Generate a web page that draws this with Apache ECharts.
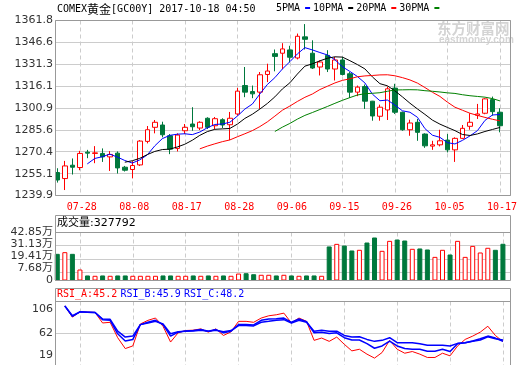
<!DOCTYPE html>
<html><head><meta charset="utf-8">
<script src="https://cdn.jsdelivr.net/npm/echarts@6/dist/echarts.min.js"></script>
<style>html,body{margin:0;padding:0;background:#fff}#c{width:520px;height:365px}</style>
</head><body><div id="c"></div>
<script>
const dates = ['07-25','07-26','07-27','07-28','07-31','08-01','08-02','08-03','08-04','08-07',
 '08-08','08-09','08-10','08-11','08-14','08-15','08-16','08-17','08-18','08-21',
 '08-22','08-23','08-24','08-25','08-28','08-29','08-30','08-31','09-01','09-04',
 '09-05','09-06','09-07','09-08','09-11','09-12','09-13','09-14','09-15','09-18',
 '09-19','09-20','09-21','09-22','09-25','09-26','09-27','09-28','09-29','10-02',
 '10-03','10-04','10-05','10-06','10-10','10-11','10-12','10-13','10-16','10-17'];
const xTickLabels = ['07-28','08-08','08-17','08-28','09-06','09-15','09-26','10-05','10-17'];
const open = [1255.9,1251.7,1261.0,1259.4,1270.1,1269.2,1269.2,1266.8,1269.4,1259.6,
 1258.0,1261.2,1277.6,1287.4,1289.0,1281.5,1272.7,1285.0,1289.7,1286.9,
 1293.7,1288.5,1292.7,1289.2,1296.7,1316.5,1312.3,1311.9,1324.2,1338.7,
 1339.0,1341.3,1335.7,1350.4,1339.0,1329.4,1337.5,1328.0,1334.3,1324.7,
 1311.9,1315.8,1305.6,1295.1,1299.5,1314.7,1297.9,1285.7,1290.9,1282.7,
 1274.3,1275.2,1278.5,1271.7,1279.7,1288.1,1295.8,1297.2,1306.7,1297.9];
const close = [1250.7,1260.5,1259.6,1269.2,1269.4,1269.6,1266.8,1268.5,1259.1,1257.5,
 1260.8,1277.8,1285.7,1290.9,1282.2,1272.2,1282.0,1287.4,1287.8,1290.9,
 1287.4,1293.4,1289.0,1293.7,1312.6,1311.9,1310.7,1324.0,1326.6,1336.8,
 1342.0,1336.2,1350.8,1348.7,1328.7,1332.9,1328.0,1334.3,1324.2,1311.9,
 1315.4,1305.6,1295.3,1301.4,1314.2,1297.9,1285.7,1290.4,1283.9,1274.5,
 1275.2,1278.0,1271.7,1279.7,1286.7,1290.9,1296.7,1307.2,1298.3,1288.5];
const low = [1248.9,1243.7,1254.5,1257.5,1265.9,1262.4,1263.3,1257.0,1255.2,1256.6,
 1251.9,1260.5,1276.2,1283.2,1280.4,1268.7,1270.6,1282.7,1285.0,1285.5,
 1286.2,1286.2,1286.9,1278.5,1295.5,1308.4,1307.7,1300.2,1318.9,1326.4,
 1328.0,1332.6,1334.7,1341.6,1328.0,1323.5,1325.9,1320.0,1323.5,1307.9,
 1309.1,1300.2,1292.0,1292.0,1292.5,1296.7,1285.0,1281.5,1278.0,1273.1,
 1271.7,1274.1,1269.9,1263.3,1279.2,1285.7,1293.2,1296.5,1295.5,1283.9];
const high = [1258.9,1264.0,1265.7,1271.0,1271.7,1274.3,1272.7,1270.8,1270.6,1260.5,
 1263.8,1278.5,1288.3,1292.5,1291.3,1282.7,1283.2,1289.7,1301.4,1291.6,
 1294.4,1294.6,1293.7,1298.1,1314.9,1329.4,1316.5,1325.9,1331.7,1341.6,
 1346.0,1344.2,1352.7,1359.3,1348.0,1334.0,1341.1,1336.4,1336.4,1325.9,
 1316.5,1317.2,1305.8,1303.2,1315.8,1317.7,1298.3,1292.7,1293.2,1283.2,
 1278.0,1285.7,1282.7,1280.4,1289.0,1297.2,1303.7,1307.7,1308.8,1300.7];
const ma5 = ['-','-','-','-',1261.9,1265.7,1266.9,1268.7,1266.7,1264.3,
 1262.5,1264.7,1268.2,1274.5,1279.5,1281.8,1282.6,1282.9,1282.3,1284.1,
 1287.1,1289.4,1289.7,1290.9,1295.2,1300.1,1303.6,1310.6,1317.2,1322.0,
 1328.0,1333.1,1338.5,1342.9,1341.3,1339.5,1337.8,1334.5,1329.6,1326.3,
 1322.8,1318.3,1310.5,1305.9,1306.4,1302.9,1298.9,1297.9,1294.4,1286.5,
 1281.9,1280.4,1276.7,1275.8,1278.3,1281.4,1285.1,1292.2,1296.0,1296.3];
const ma10 = ['-','-','-','-','-','-','-','-','-',1263.1,
 1264.1,1265.8,1268.4,1270.6,1271.9,1272.2,1273.7,1275.6,1278.4,1281.8,
 1284.4,1286.0,1286.3,1286.6,1289.6,1293.6,1296.5,1300.1,1304.0,1308.6,
 1314.1,1318.4,1324.5,1330.0,1331.6,1333.7,1335.5,1336.5,1336.3,1333.8,
 1331.1,1328.1,1322.5,1317.8,1316.3,1312.8,1308.6,1304.2,1300.2,1296.4,
 1292.4,1289.6,1287.3,1285.1,1282.4,1281.7,1282.8,1284.5,1285.9,1287.3];
const ma20 = ['-','-','-','-','-','-','-','-','-','-',
 '-','-','-','-','-','-','-','-','-',1272.4,
 1274.3,1275.9,1277.4,1278.6,1280.8,1282.9,1285.1,1287.9,1291.2,1295.2,
 1299.3,1302.2,1305.4,1308.3,1310.6,1313.7,1316.0,1318.3,1320.1,1321.2,
 1322.6,1323.2,1323.5,1323.9,1324.0,1323.3,1322.0,1320.4,1318.2,1315.1,
 1311.8,1308.9,1304.9,1301.4,1299.3,1297.2,1295.7,1294.3,1293.0,1291.9];
const ma30 = ['-','-','-','-','-','-','-','-','-','-',
 '-','-','-','-','-','-','-','-','-','-',
 '-','-','-','-','-','-','-','-','-',1284.5,
 1287.5,1290.1,1293.1,1295.7,1297.7,1299.8,1301.9,1304.1,1306.2,1308.1,
 1309.9,1310.8,1311.1,1311.5,1312.5,1313.4,1313.5,1313.6,1313.5,1312.9,
 1312.5,1312.0,1311.4,1311.0,1310.1,1309.4,1308.9,1308.4,1307.4,1305.8];
const volume = [23.8,25.3,23.8,9.8,4.5,4.2,4.5,4.2,4.5,4.5,
 4.2,4.2,4.2,4.2,4.5,4.5,4.2,4.2,4.5,4.2,
 4.5,4.2,4.5,4.2,6.2,6.5,5.6,5.1,5.1,4.5,
 5.1,4.5,4.2,4.5,4.5,4.2,30.4,32.7,31.2,26.8,
 27.4,33.9,38.4,26.5,35.4,36.6,35.7,28.3,28.6,27.7,
 21.1,27.4,23.2,35.4,21.1,30.9,25.0,29.2,27.4,32.78];
const rsiA = ['-',113.0,91.8,101.8,101.2,100.6,80.6,81.9,52.6,32.0,
 37.0,78.7,85.6,90.0,74.4,44.4,61.9,66.3,66.9,69.4,
 63.2,69.4,56.9,63.8,83.7,83.7,81.9,90.0,94.3,96.2,
 99.3,80.6,90.0,83.7,47.6,52.0,45.7,53.8,40.1,27.6,
 30.7,21.4,13.9,24.5,47.6,30.7,23.2,26.4,21.4,15.1,
 15.1,23.2,18.2,37.0,49.4,55.7,63.2,74.4,56.9,45.2];
const rsiB = ['-',113.0,93.1,101.8,101.2,100.6,86.9,85.6,60.0,46.3,
 49.4,77.5,81.9,85.6,77.5,55.7,63.2,65.6,66.3,68.1,
 65.0,68.1,61.9,65.0,77.5,77.5,76.9,85.6,88.1,88.7,
 90.0,81.9,88.1,83.1,61.9,63.2,60.7,61.9,52.6,48.2,
 48.2,41.3,32.6,37.0,46.3,37.0,32.0,30.7,30.7,27.0,
 27.0,30.7,26.4,41.3,43.2,46.3,50.7,55.7,51.9,45.9];
const rsiC = ['-',113.0,94.3,101.8,101.2,100.6,88.1,87.5,65.0,53.8,
 55.7,77.5,80.6,83.7,78.7,60.0,63.8,65.0,65.6,66.9,
 65.0,66.9,63.8,66.3,75.6,75.6,75.0,81.9,83.7,85.6,
 86.9,80.6,85.6,81.9,65.0,66.9,65.0,65.0,56.9,53.8,
 54.4,49.4,45.7,47.6,52.6,43.2,43.2,43.2,41.3,38.2,
 38.2,38.2,37.0,41.9,43.2,45.7,48.2,54.4,50.7,48.2];
const priceTicks = [1239.9,1255.1,1270.4,1285.6,1300.9,1316.1,1331.3,1346.6,1361.8];
const volTicks = [0,7.68,19.41,31.13,42.85];
const rsiTicks = [19,62,106];
const lastVolume = '327792';
const rsiLast = ['45.2','45.9','48.2'];

const UP = '#ff0000', DOWN = '#00783c', GRIDC = '#cccccc', FRAME = '#999999', BLUE = '#0000ff';
const MONO = "'DejaVu Sans Mono', monospace";
const SANS = "'DejaVu Sans', 'Noto Sans CJK SC', sans-serif";
const P = { main:{top:20.5,height:175}, vol:{top:232.5,height:48}, rsi:{top:301.5,height:64.5} };
const FR = {left:55, width:456}, DG = {left:53.5, width:453.2};

const candle = dates.map((d,i)=>[open[i], close[i], low[i], high[i]]);
const isUp = i => close[i] >= open[i];
const volUp = volume.map((v,i)=> isUp(i) ? v : '-');
const volDown = volume.map((v,i)=> isUp(i) ? '-' : v);
const showDate = (i, v) => xTickLabels.indexOf(dates[i]) >= 0;

const grids = [];
const xAxes = [];
const yAxes = [];
function addPanel(p, yOpt, showLabels){
  const gi = grids.length;
  grids.push({left:FR.left, width:FR.width, top:p.top, height:p.height, show:false});
  grids.push({left:DG.left, width:DG.width, top:p.top, height:p.height, show:false});
  xAxes.push({gridIndex:gi, type:'value', show:false, min:0, max:1});
  xAxes.push({gridIndex:gi+1, type:'category', data:dates, boundaryGap:true,
    axisLine:{show:false}, axisTick:{show:false},
    axisLabel:{show:showLabels, interval:showDate, color:'#ff0000', fontFamily:MONO, fontSize:10, margin:7, padding:[0,0,0,4]},
    splitLine:{show:true, interval:showDate, alignWithLabel:true, lineStyle:{color:GRIDC, width:1, type:[4,3]}}});
  yAxes.push(Object.assign({gridIndex:gi, type:'value', axisLine:{show:false}}, yOpt));
  yAxes.push({gridIndex:gi+1, type:'value', show:false, min:yOpt.min, max:yOpt.max});
  return gi+1;
}
const labelStyle = {color:'#333', fontFamily:SANS, fontSize:11, margin:2, showMinLabel:true, showMaxLabel:true, hideOverlap:false};
const gMain = addPanel(P.main, {min:1239.9, max:1361.8,
  axisTick:{show:false, customValues:priceTicks},
  axisLabel:Object.assign({customValues:priceTicks, formatter:v=>v.toFixed(1)}, labelStyle),
  splitLine:{show:true, lineStyle:{color:GRIDC}}}, true);
// volume labels sit evenly spaced (12px apart) in the reference: lift each a little
const volLift = {'7.68':7, '19.41':5, '31.13':2};
const gVol = addPanel(P.vol, {min:0, max:42.85,
  axisTick:{show:false, customValues:volTicks.slice(1)},
  axisLabel:Object.assign({customValues:volTicks,
    formatter:v=> { if (v===0) return '0'; const k=v.toFixed(2); return volLift[k] ? '{s'+volLift[k]+'|'+k+'万}' : k+'万'; },
    rich:{s7:{padding:[0,0,7,0]}, s5:{padding:[0,0,5,0]}, s2:{padding:[0,0,2,0]}}}, labelStyle),
  splitLine:{show:true, lineStyle:{color:GRIDC}}}, false);
const gRsi = addPanel(P.rsi, {min:0.8, max:121.4,
  axisTick:{show:false, customValues:[62]},
  axisLabel:Object.assign({customValues:rsiTicks}, labelStyle),
  splitLine:{show:true, lineStyle:{color:GRIDC}}}, false);

function maLine(name, data, color){
  return {name, type:'line', xAxisIndex:gMain, yAxisIndex:gMain, data, symbol:'none', showSymbol:false,
    lineStyle:{color, width:1}, itemStyle:{color}, z:4, silent:true};
}
function rsiLine(name, data, color, w){
  return {name, type:'line', xAxisIndex:gRsi, yAxisIndex:gRsi, data, symbol:'none', showSymbol:false,
    lineStyle:{color, width:w}, itemStyle:{color}, z:4, silent:true};
}

const frameStyle = {stroke:FRAME, fill:null, lineWidth:1};
const option = {
  animation:false,
  backgroundColor:'#ffffff',
  grid:grids, xAxis:xAxes, yAxis:yAxes,
  legend:{data:['5PMA','10PMA','20PMA','30PMA'], left:276, top:3, padding:0, icon:'rect',
    itemWidth:5, itemHeight:2, itemGap:3, align:'right', selectedMode:false,
    textStyle:{fontFamily:MONO, fontSize:10, color:'#000'}},
  series:[
    {name:'K', type:'candlestick', xAxisIndex:gMain, yAxisIndex:gMain, data:candle, barWidth:5,
     itemStyle:{color:'#ffffff', color0:DOWN, borderColor:UP, borderColor0:DOWN, borderWidth:1}, z:3},
    maLine('5PMA', ma5, BLUE),
    maLine('10PMA', ma10, '#000000'),
    maLine('20PMA', ma20, '#ff0000'),
    maLine('30PMA', ma30, '#008000'),
    {name:'volUp', type:'bar', xAxisIndex:gVol, yAxisIndex:gVol, data:volUp, barWidth:5, barGap:'-100%',
     itemStyle:{color:'#ffffff', borderColor:UP, borderWidth:1}},
    {name:'volDown', type:'bar', xAxisIndex:gVol, yAxisIndex:gVol, data:volDown, barWidth:5, barGap:'-100%',
     itemStyle:{color:DOWN, borderColor:DOWN, borderWidth:1}},
    rsiLine('RSI_A', rsiA, '#ff0000', 1),
    rsiLine('RSI_B', rsiB, BLUE, 1.5),
    rsiLine('RSI_C', rsiC, BLUE, 1.5)
  ],
  graphic:[
    {type:'text', x:437, y:28, z:-1, silent:true, style:{text:'东方财富网', font:"bold 14.5px 'Noto Sans CJK SC'", fill:'#d4d4d4', verticalAlign:'middle'}},
    {type:'text', x:439, y:40, z:-1, silent:true, style:{text:'eastmoney.com', font:"bold 10px 'Liberation Sans'", fill:'#d4d4d4', verticalAlign:'middle'}},
    {type:'rect', z:10, silent:true, shape:{x:55.5, y:20.5, width:455, height:175}, style:frameStyle},
    {type:'rect', z:10, silent:true, shape:{x:55.5, y:215.5, width:455, height:65}, style:frameStyle},
    {type:'line', z:10, silent:true, shape:{x1:55.5, y1:232.5, x2:510.5, y2:232.5}, style:{stroke:FRAME, lineWidth:1}},
    {type:'rect', z:10, silent:true, shape:{x:55.5, y:288.5, width:455, height:80}, style:frameStyle},
    {type:'line', z:10, silent:true, shape:{x1:55.5, y1:301.5, x2:510.5, y2:301.5}, style:{stroke:FRAME, lineWidth:1}},
    {type:'text', x:57, y:9, z:10, silent:true, style:{
      text:'{m|COMEX}{c|黄金}{m|[GC00Y] 2017-10-18 04:50}', verticalAlign:'middle',
      rich:{m:{fontFamily:MONO, fontSize:10, fill:'#000'}, c:{fontFamily:"'Noto Sans CJK SC'", fontSize:12, fill:'#000'}}}},
    {type:'text', x:57, y:223, z:10, silent:true, style:{
      text:'成交量:' + lastVolume, verticalAlign:'middle', font:"11px 'DejaVu Sans', 'Noto Sans CJK SC'", fill:'#000'}},
    {type:'text', x:57, y:294.5, z:10, silent:true, style:{
      text:'{a|RSI_A:' + rsiLast[0] + '} {b|RSI_B:' + rsiLast[1] + '} {b|RSI_C:' + rsiLast[2] + '}', verticalAlign:'middle',
      rich:{a:{fontFamily:MONO, fontSize:10, fill:'#ff0000'}, b:{fontFamily:MONO, fontSize:10, fill:BLUE}}}}
  ]
};
const chart = echarts.init(document.getElementById('c'), null, {renderer:'canvas', width:520, height:365});
chart.setOption(option);
</script></body></html>
